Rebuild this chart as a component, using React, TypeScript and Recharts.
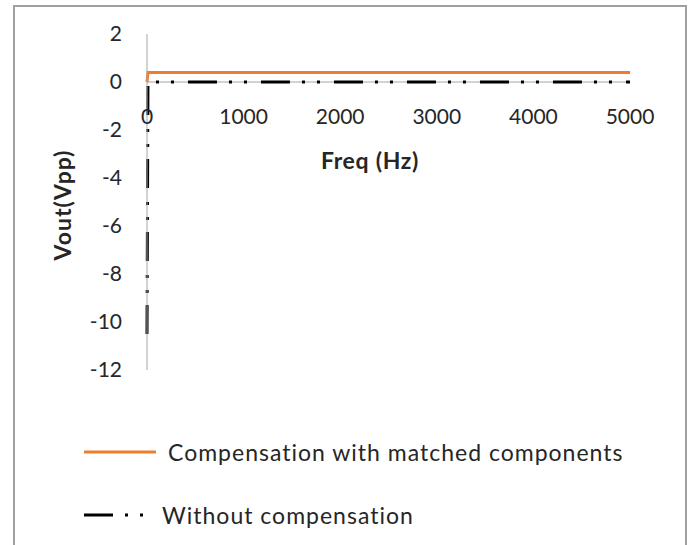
import { LineChart, Line, XAxis, YAxis, ReferenceLine } from 'recharts';

const freqHz = [0, 10, 50, 100, 500, 1000, 2000, 3000, 4000, 5000];
const compensated = [0, 0.4, 0.4, 0.4, 0.4, 0.4, 0.4, 0.4, 0.4, 0.4];
const uncompensated = [-10.5, 0, 0, 0, 0, 0, 0, 0, 0, 0];
const xTicks = [0, 1000, 2000, 3000, 4000, 5000];
const yTicks = [2, 0, -2, -4, -6, -8, -10, -12];
const seriesNames = ['Compensation with matched components', 'Without compensation'];

const data = freqHz.map((f, i) => ({ freq: f, comp: compensated[i], nocomp: uncompensated[i] }));

const FONT = 'Lato, "Open Sans", sans-serif';
const TXT = '#262626';
const AXIS = '#a6a6a6';
const ORANGE = '#ED7D31';
const DASH = '29 12 3 12 3 14';

// x labels sit just under the zero line, not at the plot bottom
const XTick = (props: any) => {
  const { x, y, payload } = props;
  return (
    <text x={x} y={y - 263} textAnchor="middle" dominantBaseline="central" fill={TXT} fontSize={21} fontFamily={FONT}>
      {payload.value}
    </text>
  );
};

const LegendBox = () => (
  <div style={{ position: 'absolute', left: 84, top: 437, fontFamily: FONT, fontSize: 23, letterSpacing: 1, color: TXT }}>
    <div style={{ display: 'flex', alignItems: 'center', height: 30 }}>
      <svg width={84} height={10}>
        <line x1={0} y1={5} x2={72} y2={5} stroke={ORANGE} strokeWidth={3} />
      </svg>
      <span>{seriesNames[0]}</span>
    </div>
    <div style={{ display: 'flex', alignItems: 'center', height: 30, marginTop: 33 }}>
      <svg width={78} height={10}>
        <line x1={0} y1={5} x2={64} y2={5} stroke="#000" strokeWidth={3} strokeDasharray={DASH} />
      </svg>
      <span>{seriesNames[1]}</span>
    </div>
  </div>
);

export default function App() {
  return (
    <div style={{ position: 'absolute', left: 0, top: 0, width: 689, height: 545, background: '#fff', overflow: 'hidden' }}>
      <div style={{ position: 'absolute', left: 13, top: 5, width: 670, height: 600, border: '2px solid #a0a0a0' }} />
      <LineChart width={689} height={545} data={data} margin={{ top: 34, right: 59, bottom: 145, left: 87 }}>
        <XAxis
          dataKey="freq"
          type="number"
          domain={[0, 5000]}
          ticks={xTicks}
          axisLine={false}
          tickLine={false}
          height={30}
          tick={<XTick />}
          interval={0}
        />
        <YAxis
          type="number"
          domain={[-12, 2]}
          ticks={yTicks}
          width={60}
          interval={0}
          axisLine={{ stroke: AXIS, strokeWidth: 1 }}
          tickLine={false}
          tickMargin={19}
          tick={{ fill: TXT, fontSize: 21, fontFamily: FONT }}
        />
        <ReferenceLine y={0} stroke={AXIS} strokeWidth={1} />
        <Line dataKey="comp" name={seriesNames[0]} stroke={ORANGE} strokeWidth={3} dot={false} isAnimationActive={false} />
        <Line dataKey="nocomp" name={seriesNames[1]} stroke="#000" strokeWidth={3} strokeDasharray={DASH} dot={false} isAnimationActive={false} />
      </LineChart>
      <LegendBox />
      <div style={{ position: 'absolute', left: 370, top: 160, transform: 'translate(-50%, -50%)', fontFamily: FONT, fontWeight: 'bold', fontSize: 23, letterSpacing: 0.7, color: TXT, whiteSpace: 'nowrap' }}>
        Freq (Hz)
      </div>
      <div style={{ position: 'absolute', left: 62, top: 205, transform: 'translate(-50%, -50%) rotate(-90deg)', fontFamily: FONT, fontWeight: 'bold', fontSize: 23, letterSpacing: 1, color: TXT, whiteSpace: 'nowrap' }}>
        Vout(Vpp)
      </div>
    </div>
  );
}
